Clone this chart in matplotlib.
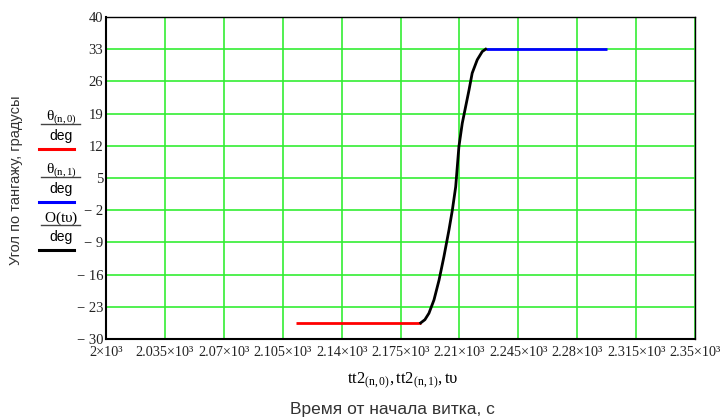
import numpy as np
import matplotlib
matplotlib.use("Agg")
import matplotlib.pyplot as plt

plt.rcParams['mathtext.fontset'] = 'custom'
plt.rcParams['mathtext.rm'] = 'Liberation Serif'
plt.rcParams['mathtext.it'] = 'Liberation Serif:italic'

# ======= data =======
# theta(n,0): red plateau before the turn
t_red = [2113, 2187]
th_red = [-26.5, -26.5]

# theta(n,1): blue plateau after the turn
t_blue = [2225.6, 2298]
th_blue = [33.0, 33.0]

# O(tv): black transition curve
t_blk = [2187.0, 2189.5, 2191.9, 2194.9, 2197.9, 2200.8, 2203.8, 2205.8,
         2207.8, 2209.7, 2211.7, 2213.7, 2215.7, 2217.6, 2220.6, 2223.6, 2225.6]
th_blk = [-26.5, -25.8, -24.4, -21.5, -17.2, -12.1, -6.3, -2.0,
          3.1, 11.8, 16.9, 20.5, 24.1, 27.8, 30.7, 32.5, 33.0]

x_ticks = [2000 + 35 * i for i in range(11)]
y_ticks = [-30 + 7 * i for i in range(11)]
x_labels = ["2×10³", "2.035×10³", "2.07×10³", "2.105×10³", "2.14×10³", "2.175×10³",
            "2.21×10³", "2.245×10³", "2.28×10³", "2.315×10³", "2.35×10³"]
# ==========================================

fig = plt.figure(figsize=(7.25, 4.19), dpi=100)
ax = fig.add_axes([106 / 725, 1 - 339 / 419, 589 / 725, 322 / 419])

ax.set_xlim(2000, 2350)
ax.set_ylim(-30, 40)
ax.set_xticks(x_ticks)
ax.set_yticks(y_ticks)
ax.grid(True, color="#33ee33", linewidth=1.2)
ax.set_axisbelow(True)
for s in ax.spines.values():
    s.set_color("black")
    s.set_linewidth(1.0)
ax.spines["left"].set_linewidth(1.5)
ax.spines["bottom"].set_linewidth(1.5)

ax.plot(t_red, th_red, color="red", lw=2.0, solid_capstyle="butt", zorder=3)
ax.plot(t_blue, th_blue, color="blue", lw=2.0, solid_capstyle="butt", zorder=3)
ax.plot(t_blk, th_blk, color="black", lw=2.0, zorder=3)

ax.tick_params(axis="x", length=0, pad=5)
ax.tick_params(axis="y", length=0, pad=2)
ax.set_xticklabels(x_labels, fontsize=10.3, family="Liberation Serif", color="#222222")
ylabs = [("− %d" % -v) if v < 0 else str(v) for v in y_ticks]
ax.set_yticklabels(ylabs, fontsize=10.5, family="Liberation Serif", color="#222222")

# axis titles (Mathcad style)
fig.text(403 / 725, 1 - 381 / 419, r"$\mathregular{tt2_{(n,0)},tt2_{(n,1)},t\upsilon}$",
         ha="center", va="center", fontsize=12, family="Liberation Serif")
fig.text(392 / 725, 1 - 409 / 419, "Время от начала витка, с",
         ha="center", va="center", fontsize=12.5, family="Liberation Sans", color="#333333")
fig.text(16 / 725, 1 - 180 / 419, "Угол по тангажу, градусы", rotation=90,
         ha="center", va="center", fontsize=10.5, family="Liberation Sans", color="#333333")

# left-side legend: fractions over coloured line samples
legend = [(r"$\mathregular{\theta_{(n,0)}}$", "red", 117),
          (r"$\mathregular{\theta_{(n,1)}}$", "blue", 170),
          (r"$\mathregular{O(t\upsilon)}$", "black", 218)]
for num, col, y0 in legend:
    fig.text(61 / 725, 1 - y0 / 419, num, ha="center", va="center", fontsize=11,
             family="Liberation Serif")
    fig.add_artist(plt.Line2D([41 / 725, 80 / 725], [1 - (y0 + 7.5) / 419] * 2,
                              color="#444444", lw=1.0))
    fig.text(61 / 725, 1 - (y0 + 19) / 419, "deg", ha="center", va="center",
             fontsize=10, family="Liberation Sans")
    fig.add_artist(plt.Line2D([39 / 725, 74 / 725], [1 - (y0 + 32) / 419] * 2,
                              color=col, lw=2.2))

fig.savefig("out.png", dpi=100)
